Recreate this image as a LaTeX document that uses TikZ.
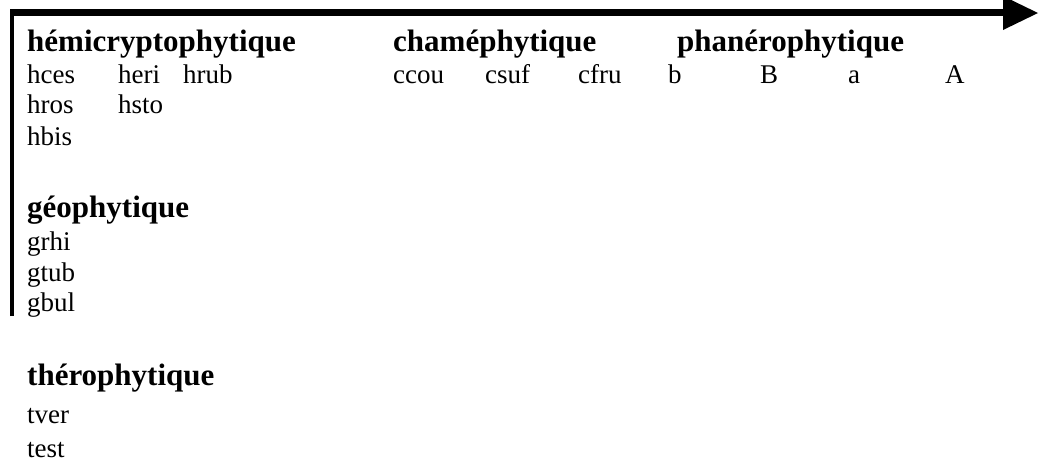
\documentclass[tikz,border=0pt]{standalone}
\usepackage{fontspec}
\setmainfont{Liberation Serif}
\begin{document}
\begin{tikzpicture}[x=1pt,y=-1pt,
  head/.style={anchor=base west,inner sep=0pt,font=\fontsize{31}{34}\selectfont\bfseries},
  item/.style={anchor=base west,inner sep=0pt,font=\fontsize{27}{30}\selectfont},
  axis/.style={line width=4pt},
  topaxis/.style={line width=6.5pt}]
\useasboundingbox (0,0) rectangle (1040,464);

% axes: vertical bar on the left, arrow along the top
\coordinate (origin) at (12,12.5);
\coordinate (vbottom) at (12,316);
\coordinate (hstart) at (10,12.5);
\coordinate (hend) at (1004,12.5);
\coordinate (tipbase1) at (1003,-4);
\coordinate (tip) at (1038,13);
\coordinate (tipbase2) at (1003,30);
\draw[axis] (vbottom) -- (origin);
\draw[topaxis] (hstart) -- (hend);
\fill (tipbase1) -- (tip) -- (tipbase2) -- cycle;

% hemicryptophytes
\node[head] (hemi) at (27,51) {hémicryptophytique};
\node[item] (hces) at (27,83) {hces};
\node[item] (heri) at (118,83) {heri};
\node[item] (hrub) at (183,83) {hrub};
\node[item] (hros) at (27,113) {hros};
\node[item] (hsto) at (118,113) {hsto};
\node[item] (hbis) at (27,145) {hbis};

% chamaephytes
\node[head] (cham) at (393,51) {chaméphytique};
\node[item] (ccou) at (393,83) {ccou};
\node[item] (csuf) at (485,83) {csuf};
\node[item] (cfru) at (578,83) {cfru};

% phanerophytes
\node[head] (phan) at (677,51) {phanérophytique};
\node[item] (pb) at (668,83) {b};
\node[item] (pB) at (760,83) {B};
\node[item] (pa) at (848,83) {a};
\node[item] (pA) at (945,83) {A};

% geophytes
\node[head] (geo) at (27,217) {géophytique};
\node[item] (grhi) at (27,250) {grhi};
\node[item] (gtub) at (27,281) {gtub};
\node[item] (gbul) at (27,311) {gbul};

% therophytes
\node[head] (thero) at (27,385) {thérophytique};
\node[item] (tver) at (27,423) {tver};
\node[item] (test) at (27,457) {test};
\end{tikzpicture}
\end{document}
